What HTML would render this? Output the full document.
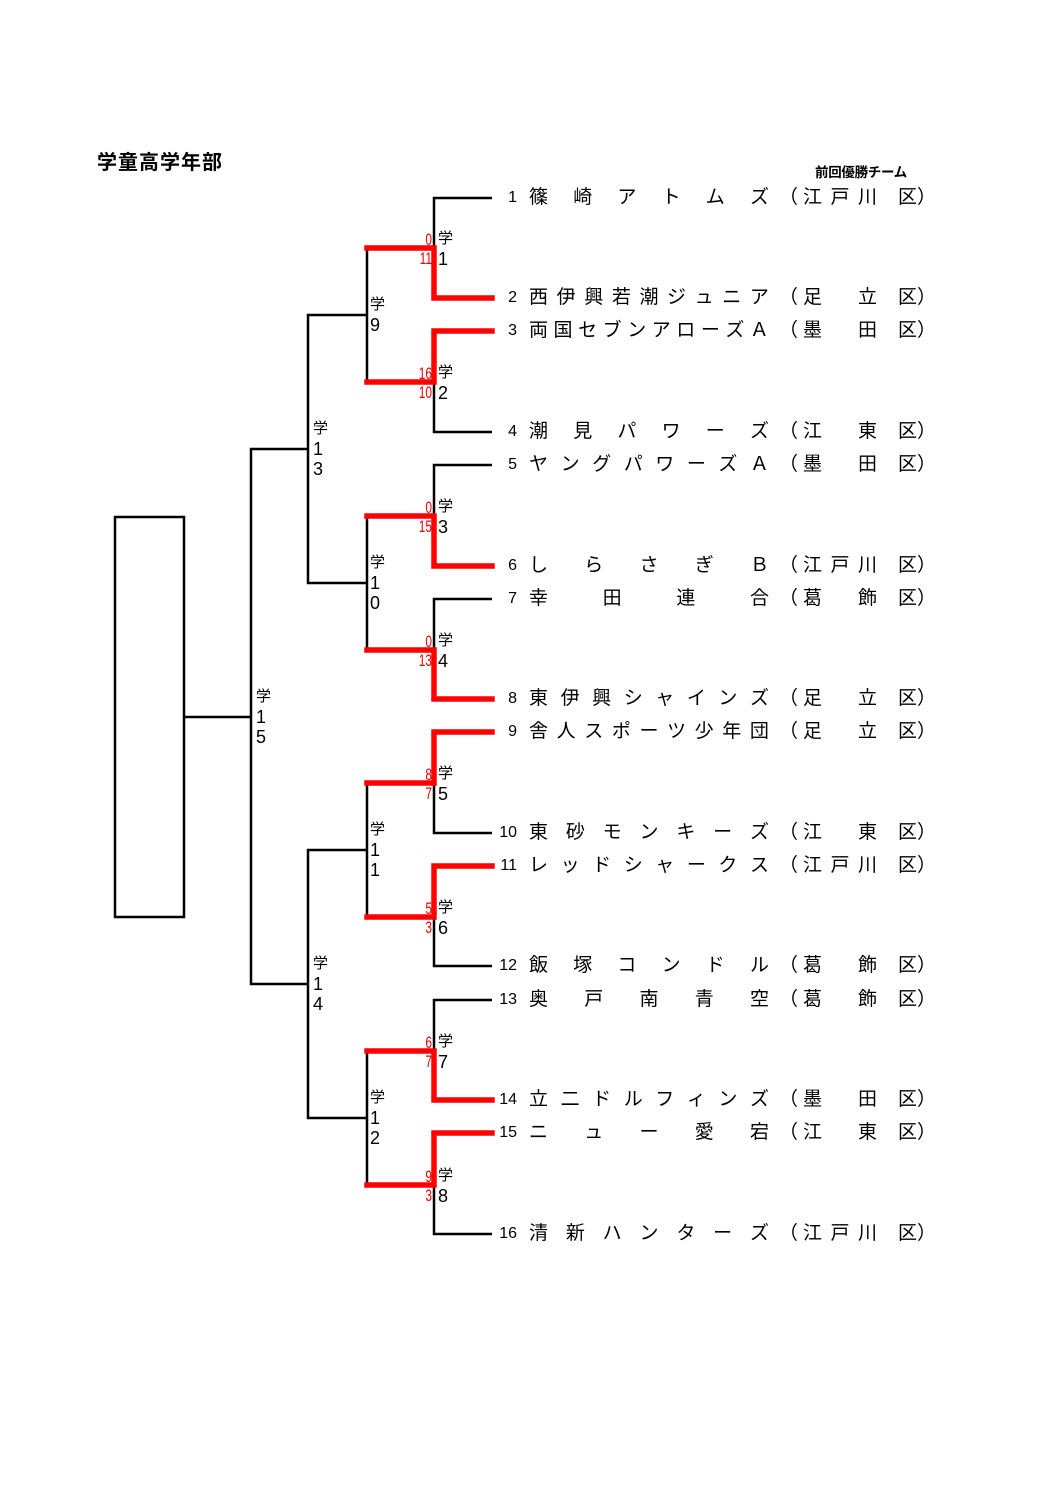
<!DOCTYPE html>
<html><head><meta charset="utf-8">
<style>
body{margin:0;background:#fff;}
#p{position:relative;width:1058px;height:1497px;overflow:hidden;font-family:"Liberation Sans","Noto Sans CJK JP",sans-serif;color:#000;}
svg{position:absolute;left:0;top:0;}
.r{position:absolute;height:26px;line-height:26px;font-size:19px;}
.n{position:absolute;left:490px;width:27px;text-align:right;font-size:16px;}
.nm{position:absolute;left:529px;width:240px;display:flex;justify-content:space-between;}
.lp{position:absolute;left:779px;}
.d{position:absolute;left:803px;width:74px;display:flex;justify-content:space-between;}
.ku{position:absolute;left:898px;}
.rp{position:absolute;left:917px;}
.lb{position:absolute;font-size:15px;line-height:20px;text-align:left;}
.lb span{display:block;font-size:18px;}
.sc{position:absolute;width:30px;text-align:right;color:#e00;font-size:17px;line-height:17px;transform:scaleX(0.7);transform-origin:right center;}
</style></head><body><div id="p">
<div style="position:absolute;left:97px;top:146px;font-size:20px;font-weight:bold;letter-spacing:1px;">学童高学年部</div>
<div style="position:absolute;left:815px;top:161px;font-size:13.5px;font-weight:bold;letter-spacing:-0.3px;">前回優勝チーム</div>
<svg width="1058" height="1497">
<g stroke="#000" stroke-width="2.5" fill="none">
<rect x="115" y="517" width="69" height="400"/>
<line x1="185" y1="717" x2="251" y2="717"/>
<polyline points="308,449 251,449 251,984 308,984"/>
<polyline points="367,315 308,315 308,583 367,583"/>
<polyline points="367,850 308,850 308,1118 367,1118"/>
<polyline points="434,248 367,248 367,382 434,382"/>
<polyline points="434,516 367,516 367,650 434,650"/>
<polyline points="434,783 367,783 367,917 434,917"/>
<polyline points="434,1051 367,1051 367,1185 434,1185"/>
<polyline points="492,198 434,198 434,298 492,298"/>
<polyline points="492,331 434,331 434,432 492,432"/>
<polyline points="492,465 434,465 434,566 492,566"/>
<polyline points="492,599 434,599 434,699 492,699"/>
<polyline points="492,732 434,732 434,833 492,833"/>
<polyline points="492,866 434,866 434,966 492,966"/>
<polyline points="492,1000 434,1000 434,1100 492,1100"/>
<polyline points="492,1133 434,1133 434,1234 492,1234"/>
</g>
<g stroke="#f00" stroke-width="5.5" fill="none" stroke-linejoin="miter" stroke-linecap="square">
<polyline points="367,248 434,248 434,298 492,298"/>
<polyline points="367,382 434,382 434,331 492,331"/>
<polyline points="367,516 434,516 434,566 492,566"/>
<polyline points="367,650 434,650 434,699 492,699"/>
<polyline points="367,783 434,783 434,732 492,732"/>
<polyline points="367,917 434,917 434,866 492,866"/>
<polyline points="367,1051 434,1051 434,1100 492,1100"/>
<polyline points="367,1185 434,1185 434,1133 492,1133"/>
</g>
</svg>

<div class="sc" style="left:402px;top:231px">0</div><div class="sc" style="left:402px;top:250px">11</div>
<div class="sc" style="left:402px;top:365px">16</div><div class="sc" style="left:402px;top:384px">10</div>
<div class="sc" style="left:402px;top:499px">0</div><div class="sc" style="left:402px;top:518px">15</div>
<div class="sc" style="left:402px;top:633px">0</div><div class="sc" style="left:402px;top:652px">13</div>
<div class="sc" style="left:402px;top:766px">8</div><div class="sc" style="left:402px;top:785px">7</div>
<div class="sc" style="left:402px;top:900px">5</div><div class="sc" style="left:402px;top:919px">3</div>
<div class="sc" style="left:402px;top:1034px">6</div><div class="sc" style="left:402px;top:1053px">7</div>
<div class="sc" style="left:402px;top:1168px">9</div><div class="sc" style="left:402px;top:1187px">3</div>

<div class="lb" style="left:438px;top:229px">学<span>1</span></div>
<div class="lb" style="left:438px;top:363px">学<span>2</span></div>
<div class="lb" style="left:438px;top:497px">学<span>3</span></div>
<div class="lb" style="left:438px;top:631px">学<span>4</span></div>
<div class="lb" style="left:438px;top:764px">学<span>5</span></div>
<div class="lb" style="left:438px;top:898px">学<span>6</span></div>
<div class="lb" style="left:438px;top:1032px">学<span>7</span></div>
<div class="lb" style="left:438px;top:1166px">学<span>8</span></div>
<div class="lb" style="left:370px;top:295px">学<span>9</span></div>
<div class="lb" style="left:370px;top:553px">学<span>1</span><span>0</span></div>
<div class="lb" style="left:370px;top:820px">学<span>1</span><span>1</span></div>
<div class="lb" style="left:370px;top:1088px">学<span>1</span><span>2</span></div>
<div class="lb" style="left:313px;top:419px">学<span>1</span><span>3</span></div>
<div class="lb" style="left:313px;top:954px">学<span>1</span><span>4</span></div>
<div class="lb" style="left:256px;top:687px">学<span>1</span><span>5</span></div>

<div class="r" style="top:185px;left:0;width:1058px"><div class="n">1</div><div class="nm"><b style="font-weight:normal">篠</b><b style="font-weight:normal">崎</b><b style="font-weight:normal">ア</b><b style="font-weight:normal">ト</b><b style="font-weight:normal">ム</b><b style="font-weight:normal">ズ</b></div><div class="lp">（</div><div class="d"><i style="font-style:normal">江</i><i style="font-style:normal">戸</i><i style="font-style:normal">川</i></div><div class="ku">区</div><div class="rp">）</div></div>
<div class="r" style="top:285px;left:0;width:1058px"><div class="n">2</div><div class="nm"><b style="font-weight:normal">西</b><b style="font-weight:normal">伊</b><b style="font-weight:normal">興</b><b style="font-weight:normal">若</b><b style="font-weight:normal">潮</b><b style="font-weight:normal">ジ</b><b style="font-weight:normal">ュ</b><b style="font-weight:normal">ニ</b><b style="font-weight:normal">ア</b></div><div class="lp">（</div><div class="d"><i style="font-style:normal">足</i><i style="font-style:normal">立</i></div><div class="ku">区</div><div class="rp">）</div></div>
<div class="r" style="top:318px;left:0;width:1058px"><div class="n">3</div><div class="nm"><b style="font-weight:normal">両</b><b style="font-weight:normal">国</b><b style="font-weight:normal">セ</b><b style="font-weight:normal">ブ</b><b style="font-weight:normal">ン</b><b style="font-weight:normal">ア</b><b style="font-weight:normal">ロ</b><b style="font-weight:normal">ー</b><b style="font-weight:normal">ズ</b><b style="font-weight:normal">Ａ</b></div><div class="lp">（</div><div class="d"><i style="font-style:normal">墨</i><i style="font-style:normal">田</i></div><div class="ku">区</div><div class="rp">）</div></div>
<div class="r" style="top:419px;left:0;width:1058px"><div class="n">4</div><div class="nm"><b style="font-weight:normal">潮</b><b style="font-weight:normal">見</b><b style="font-weight:normal">パ</b><b style="font-weight:normal">ワ</b><b style="font-weight:normal">ー</b><b style="font-weight:normal">ズ</b></div><div class="lp">（</div><div class="d"><i style="font-style:normal">江</i><i style="font-style:normal">東</i></div><div class="ku">区</div><div class="rp">）</div></div>
<div class="r" style="top:452px;left:0;width:1058px"><div class="n">5</div><div class="nm"><b style="font-weight:normal">ヤ</b><b style="font-weight:normal">ン</b><b style="font-weight:normal">グ</b><b style="font-weight:normal">パ</b><b style="font-weight:normal">ワ</b><b style="font-weight:normal">ー</b><b style="font-weight:normal">ズ</b><b style="font-weight:normal">Ａ</b></div><div class="lp">（</div><div class="d"><i style="font-style:normal">墨</i><i style="font-style:normal">田</i></div><div class="ku">区</div><div class="rp">）</div></div>
<div class="r" style="top:553px;left:0;width:1058px"><div class="n">6</div><div class="nm"><b style="font-weight:normal">し</b><b style="font-weight:normal">ら</b><b style="font-weight:normal">さ</b><b style="font-weight:normal">ぎ</b><b style="font-weight:normal">Ｂ</b></div><div class="lp">（</div><div class="d"><i style="font-style:normal">江</i><i style="font-style:normal">戸</i><i style="font-style:normal">川</i></div><div class="ku">区</div><div class="rp">）</div></div>
<div class="r" style="top:586px;left:0;width:1058px"><div class="n">7</div><div class="nm"><b style="font-weight:normal">幸</b><b style="font-weight:normal">田</b><b style="font-weight:normal">連</b><b style="font-weight:normal">合</b></div><div class="lp">（</div><div class="d"><i style="font-style:normal">葛</i><i style="font-style:normal">飾</i></div><div class="ku">区</div><div class="rp">）</div></div>
<div class="r" style="top:686px;left:0;width:1058px"><div class="n">8</div><div class="nm"><b style="font-weight:normal">東</b><b style="font-weight:normal">伊</b><b style="font-weight:normal">興</b><b style="font-weight:normal">シ</b><b style="font-weight:normal">ャ</b><b style="font-weight:normal">イ</b><b style="font-weight:normal">ン</b><b style="font-weight:normal">ズ</b></div><div class="lp">（</div><div class="d"><i style="font-style:normal">足</i><i style="font-style:normal">立</i></div><div class="ku">区</div><div class="rp">）</div></div>
<div class="r" style="top:719px;left:0;width:1058px"><div class="n">9</div><div class="nm"><b style="font-weight:normal">舎</b><b style="font-weight:normal">人</b><b style="font-weight:normal">ス</b><b style="font-weight:normal">ポ</b><b style="font-weight:normal">ー</b><b style="font-weight:normal">ツ</b><b style="font-weight:normal">少</b><b style="font-weight:normal">年</b><b style="font-weight:normal">団</b></div><div class="lp">（</div><div class="d"><i style="font-style:normal">足</i><i style="font-style:normal">立</i></div><div class="ku">区</div><div class="rp">）</div></div>
<div class="r" style="top:820px;left:0;width:1058px"><div class="n">10</div><div class="nm"><b style="font-weight:normal">東</b><b style="font-weight:normal">砂</b><b style="font-weight:normal">モ</b><b style="font-weight:normal">ン</b><b style="font-weight:normal">キ</b><b style="font-weight:normal">ー</b><b style="font-weight:normal">ズ</b></div><div class="lp">（</div><div class="d"><i style="font-style:normal">江</i><i style="font-style:normal">東</i></div><div class="ku">区</div><div class="rp">）</div></div>
<div class="r" style="top:853px;left:0;width:1058px"><div class="n">11</div><div class="nm"><b style="font-weight:normal">レ</b><b style="font-weight:normal">ッ</b><b style="font-weight:normal">ド</b><b style="font-weight:normal">シ</b><b style="font-weight:normal">ャ</b><b style="font-weight:normal">ー</b><b style="font-weight:normal">ク</b><b style="font-weight:normal">ス</b></div><div class="lp">（</div><div class="d"><i style="font-style:normal">江</i><i style="font-style:normal">戸</i><i style="font-style:normal">川</i></div><div class="ku">区</div><div class="rp">）</div></div>
<div class="r" style="top:953px;left:0;width:1058px"><div class="n">12</div><div class="nm"><b style="font-weight:normal">飯</b><b style="font-weight:normal">塚</b><b style="font-weight:normal">コ</b><b style="font-weight:normal">ン</b><b style="font-weight:normal">ド</b><b style="font-weight:normal">ル</b></div><div class="lp">（</div><div class="d"><i style="font-style:normal">葛</i><i style="font-style:normal">飾</i></div><div class="ku">区</div><div class="rp">）</div></div>
<div class="r" style="top:987px;left:0;width:1058px"><div class="n">13</div><div class="nm"><b style="font-weight:normal">奥</b><b style="font-weight:normal">戸</b><b style="font-weight:normal">南</b><b style="font-weight:normal">青</b><b style="font-weight:normal">空</b></div><div class="lp">（</div><div class="d"><i style="font-style:normal">葛</i><i style="font-style:normal">飾</i></div><div class="ku">区</div><div class="rp">）</div></div>
<div class="r" style="top:1087px;left:0;width:1058px"><div class="n">14</div><div class="nm"><b style="font-weight:normal">立</b><b style="font-weight:normal">二</b><b style="font-weight:normal">ド</b><b style="font-weight:normal">ル</b><b style="font-weight:normal">フ</b><b style="font-weight:normal">ィ</b><b style="font-weight:normal">ン</b><b style="font-weight:normal">ズ</b></div><div class="lp">（</div><div class="d"><i style="font-style:normal">墨</i><i style="font-style:normal">田</i></div><div class="ku">区</div><div class="rp">）</div></div>
<div class="r" style="top:1120px;left:0;width:1058px"><div class="n">15</div><div class="nm"><b style="font-weight:normal">ニ</b><b style="font-weight:normal">ュ</b><b style="font-weight:normal">ー</b><b style="font-weight:normal">愛</b><b style="font-weight:normal">宕</b></div><div class="lp">（</div><div class="d"><i style="font-style:normal">江</i><i style="font-style:normal">東</i></div><div class="ku">区</div><div class="rp">）</div></div>
<div class="r" style="top:1221px;left:0;width:1058px"><div class="n">16</div><div class="nm"><b style="font-weight:normal">清</b><b style="font-weight:normal">新</b><b style="font-weight:normal">ハ</b><b style="font-weight:normal">ン</b><b style="font-weight:normal">タ</b><b style="font-weight:normal">ー</b><b style="font-weight:normal">ズ</b></div><div class="lp">（</div><div class="d"><i style="font-style:normal">江</i><i style="font-style:normal">戸</i><i style="font-style:normal">川</i></div><div class="ku">区</div><div class="rp">）</div></div>
</div></body></html>
